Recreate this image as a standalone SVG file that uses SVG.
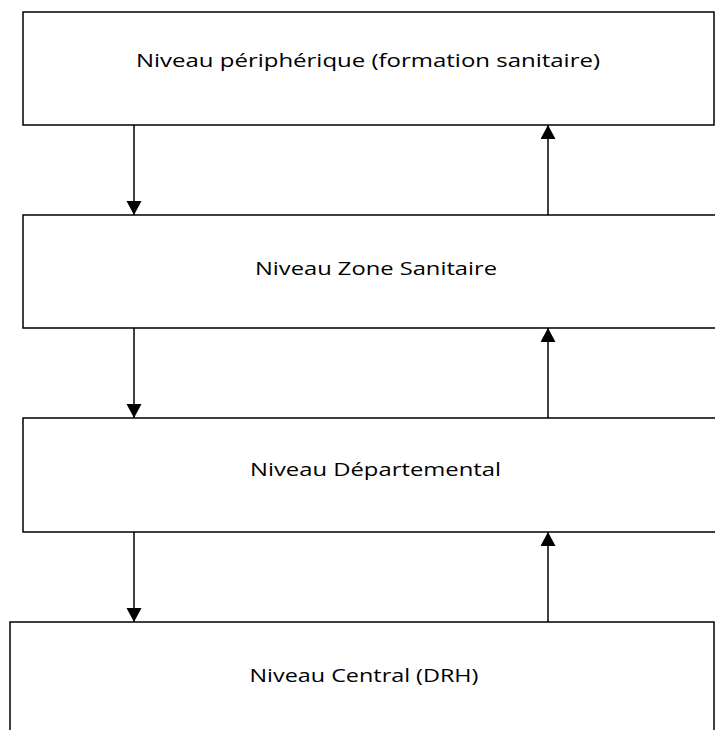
<svg xmlns="http://www.w3.org/2000/svg" width="715" height="730" viewBox="0 0 715 730">
<style>
.box{fill:#fff;stroke:#000;stroke-width:1.5}
.lbl{font-family:"Open Sans",Lato,"Liberation Sans",sans-serif;font-size:19px;fill:#000;text-anchor:middle}
.conn{stroke:#000;stroke-width:1.5;fill:none}
</style>
<defs>
<marker id="ah" markerUnits="userSpaceOnUse" markerWidth="16" markerHeight="16" refX="14" refY="7.5" orient="auto">
<path d="M0,0 L14,7.5 L0,15 Z" fill="#000"/>
</marker>
</defs>
<rect width="715" height="730" fill="#fff"/>
<g id="n1"><rect class="box" x="23" y="12" width="691" height="113"/><text class="lbl" x="368" y="67" textLength="464" lengthAdjust="spacingAndGlyphs">Niveau périphérique (formation sanitaire)</text></g>
<g id="n2"><rect class="box" x="23" y="215" width="700" height="113"/><text class="lbl" x="376" y="275" textLength="242" lengthAdjust="spacingAndGlyphs">Niveau Zone Sanitaire</text></g>
<g id="n3"><rect class="box" x="23" y="418" width="700" height="114"/><text class="lbl" x="375.5" y="476" textLength="251" lengthAdjust="spacingAndGlyphs">Niveau Départemental</text></g>
<g id="n4"><rect class="box" x="10" y="622" width="704" height="120"/><text class="lbl" x="364" y="682" textLength="229" lengthAdjust="spacingAndGlyphs">Niveau Central (DRH)</text></g>
<g id="connectors">
<line class="conn" x1="134" y1="125" x2="134" y2="215" marker-end="url(#ah)"/>
<line class="conn" x1="134" y1="328" x2="134" y2="418" marker-end="url(#ah)"/>
<line class="conn" x1="134" y1="532" x2="134" y2="622" marker-end="url(#ah)"/>
<line class="conn" x1="548" y1="215" x2="548" y2="125" marker-end="url(#ah)"/>
<line class="conn" x1="548" y1="418" x2="548" y2="328" marker-end="url(#ah)"/>
<line class="conn" x1="548" y1="622" x2="548" y2="532" marker-end="url(#ah)"/>
</g>
</svg>
